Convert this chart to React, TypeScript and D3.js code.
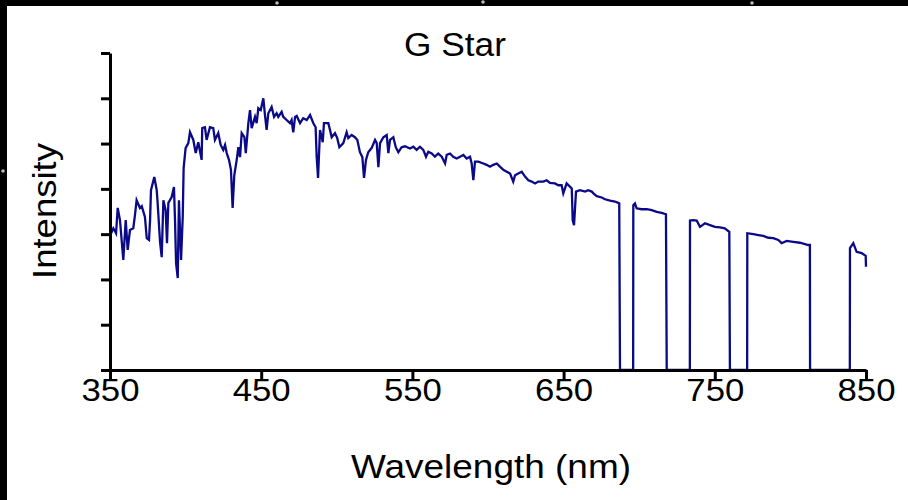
import React, { useEffect, useRef } from "react";
import * as d3 from "d3";

const wavelengths: number[] = [
  350.5, 352.2, 354.0, 355.1, 356.6, 358.8, 360.4, 361.7, 363.2, 365.4, 366.5, 367.6, 369.8, 371.0, 373.1,
  374.3, 375.8, 376.5, 377.1, 379.3, 380.9, 381.5, 383.1, 384.2, 385.3, 386.8, 387.7, 388.6, 390.8, 392.3,
  393.0, 393.7, 394.8, 395.6, 397.0, 398.1, 398.7, 400.0, 401.8, 402.9, 405.1, 406.7, 408.4, 410.6, 411.0,
  412.8, 413.9, 416.1, 418.3, 419.4, 421.6, 423.2, 424.9, 426.1, 427.2, 428.7, 430.0, 431.1, 432.2, 433.8,
  434.9, 436.0, 437.1, 438.9, 439.8, 441.5, 442.6, 443.7, 445.9, 447.0, 448.1, 449.7, 451.4, 452.5, 453.6,
  454.7, 456.9, 458.5, 460.2, 461.3, 463.5, 464.6, 466.8, 469.0, 470.1, 471.2, 472.4, 473.5, 475.7, 477.8,
  480.1, 482.3, 484.5, 486.0, 486.7, 487.6, 488.9, 490.7, 491.5, 494.4, 495.5, 496.6, 498.8, 500.3, 501.7,
  504.3, 506.5, 507.6, 509.8, 512.0, 513.6, 515.3, 516.9, 518.0, 519.3, 520.8, 523.0, 525.3, 526.4, 527.5,
  528.6, 530.8, 533.0, 534.1, 535.2, 537.4, 539.0, 540.7, 542.9, 545.1, 548.4, 550.6, 552.8, 555.0, 557.2,
  559.0, 560.5, 562.8, 564.9, 567.1, 569.4, 571.6, 572.7, 574.9, 577.0, 579.3, 581.5, 583.7, 585.9, 588.1,
  589.2, 590.3, 591.4, 593.6, 596.9, 599.1, 601.3, 603.5, 605.8, 607.9, 610.1, 612.4, 614.6, 616.7, 617.9,
  620.0, 622.3, 624.5, 626.7, 628.9, 631.1, 633.3, 636.6, 638.8, 641.0, 644.3, 646.5, 648.7, 649.8, 652.0,
  654.2, 655.4, 656.0, 656.9, 658.2, 660.8, 664.2, 666.3, 668.6, 669.7, 671.9, 675.2, 677.4, 680.7, 684.0,
  686.8, 687.3, 696.0, 696.1, 697.2, 698.3, 701.6, 705.0, 708.3, 711.6, 714.9, 717.7, 718.2, 733.5, 733.6,
  735.8, 738.0, 740.2, 743.5, 746.8, 750.1, 753.4, 756.6, 759.6, 760.0, 771.4, 771.5, 775.5, 778.8, 782.1,
  785.4, 788.7, 792.0, 794.2, 797.5, 801.9, 806.3, 811.8, 812.9, 813.0, 839.3, 839.4, 841.6, 843.8, 847.1,
  849.8, 850.0,
];

const intensity: number[] = [
  3.0, 3.13, 3.02, 3.58, 3.31, 2.43, 3.31, 2.65, 3.09, 3.13, 3.42, 3.75, 3.58, 3.62, 3.38,
  2.91, 2.87, 3.31, 3.97, 4.26, 3.97, 3.69, 2.83, 2.49, 3.75, 3.53, 2.8, 3.69, 3.82, 4.04,
  3.31, 2.36, 2.03, 3.75, 2.43, 3.38, 4.46, 4.9, 5.01, 5.25, 5.08, 4.79, 5.03, 4.64, 5.34,
  5.36, 5.08, 5.36, 5.34, 5.08, 5.23, 4.97, 4.86, 4.97, 4.79, 4.64, 4.42, 3.58, 4.3, 4.64,
  4.92, 4.7, 5.23, 5.14, 4.79, 5.45, 5.74, 5.34, 5.59, 5.45, 5.78, 5.74, 6.0, 5.63, 5.3,
  5.67, 5.81, 5.59, 5.67, 5.59, 5.7, 5.59, 5.52, 5.45, 5.52, 5.25, 5.59, 5.61, 5.45, 5.56,
  5.52, 5.63, 5.45, 5.36, 4.7, 4.24, 5.3, 5.03, 5.45, 5.45, 5.3, 5.14, 5.23, 5.12, 4.92,
  5.01, 5.25, 5.12, 5.19, 5.14, 5.08, 4.81, 4.7, 4.24, 4.64, 4.81, 4.9, 5.08, 5.01, 4.48,
  5.01, 5.14, 5.19, 4.79, 5.08, 5.14, 4.92, 4.81, 4.92, 4.94, 4.89, 4.93, 4.86, 4.93, 4.86,
  4.71, 4.82, 4.78, 4.71, 4.78, 4.71, 4.56, 4.75, 4.78, 4.71, 4.67, 4.71, 4.75, 4.67, 4.71,
  4.56, 4.19, 4.6, 4.6, 4.56, 4.53, 4.49, 4.53, 4.56, 4.49, 4.42, 4.38, 4.34, 4.16, 4.3,
  4.34, 4.38, 4.27, 4.19, 4.16, 4.12, 4.16, 4.16, 4.19, 4.13, 4.12, 4.08, 4.08, 3.9, 4.12,
  4.05, 4.01, 3.31, 3.2, 3.94, 3.97, 3.94, 3.97, 3.94, 3.9, 3.84, 3.81, 3.77, 3.74, 3.72,
  3.68, 0, 0, 3.64, 3.68, 3.57, 3.55, 3.55, 3.53, 3.49, 3.47, 3.44, 0, 0, 3.3,
  3.31, 3.3, 3.16, 3.24, 3.2, 3.16, 3.15, 3.13, 3.05, 0, 0, 3.02, 3.0, 2.98, 2.96,
  2.92, 2.91, 2.87, 2.8, 2.85, 2.83, 2.81, 2.76, 2.76, 0, 0, 2.69, 2.8, 2.61, 2.58,
  2.52, 2.28,
];

const xTicks: number[] = [350, 450, 550, 650, 750, 850];
const yTicks: number[] = [0, 1, 2, 3, 4, 5, 6, 7];
const titleText = "G Star";
const xLabel = "Wavelength (nm)";
const yLabel = "Intensity";
const stars: [number, number][] = [[277, 3], [483, 2], [752, 3], [3, 171]];

const W = 908;
const H = 500;
const FONT = "'Liberation Sans', Arial, Helvetica, sans-serif";

export default function App() {
  const ref = useRef<SVGSVGElement | null>(null);

  useEffect(() => {
    const svg = d3.select(ref.current);
    svg.selectAll("*").remove();

    const x = d3.scaleLinear().domain([350, 850]).range([110, 866]);
    const y = d3.scaleLinear().domain([0, 7]).range([370, 53]);

    svg.append("rect").attr("width", W).attr("height", H).attr("fill", "#fff");
    svg.append("rect").attr("width", W).attr("height", 6).attr("fill", "#000");
    svg.append("rect").attr("width", 7).attr("height", H).attr("fill", "#000");
    svg
      .selectAll("circle.star")
      .data(stars)
      .enter()
      .append("circle")
      .attr("cx", (d) => d[0])
      .attr("cy", (d) => d[1])
      .attr("r", 1.8)
      .attr("fill", "#bbb");

    const data = wavelengths.map((w, i) => [w, intensity[i]] as [number, number]);
    const line = d3
      .line<[number, number]>()
      .x((d) => x(d[0]))
      .y((d) => y(d[1]));

    svg
      .append("path")
      .datum(data)
      .attr("d", line)
      .attr("fill", "none")
      .attr("stroke", "#0a0a88")
      .attr("stroke-width", 2.3)
      .attr("stroke-linejoin", "miter");

    const xAxis = d3
      .axisBottom(x)
      .tickValues(xTicks)
      .tickSize(9)
      .tickSizeOuter(0)
      .tickFormat((d) => String(d));
    const gx = svg.append("g").attr("transform", "translate(0,370)").call(xAxis);
    gx.select(".domain").attr("stroke", "#000").attr("stroke-width", 3);
    gx.selectAll(".tick line").attr("stroke", "#000").attr("stroke-width", 3);
    gx.selectAll(".tick text")
      .attr("font-family", FONT)
      .attr("font-size", 32)
      .attr("fill", "#000")
      .attr("y", 8)
      .attr("dy", "0.71em")
      .attr("textLength", 58)
      .attr("lengthAdjust", "spacingAndGlyphs");

    const yAxis = d3
      .axisLeft(y)
      .tickValues(yTicks)
      .tickSize(9)
      .tickSizeOuter(0)
      .tickFormat(() => "");
    const gy = svg.append("g").attr("transform", "translate(110,0)").call(yAxis);
    gy.select(".domain").attr("stroke", "#000").attr("stroke-width", 3);
    gy.selectAll(".tick line").attr("stroke", "#000").attr("stroke-width", 3);

    svg
      .append("text")
      .attr("x", 455)
      .attr("y", 56)
      .attr("text-anchor", "middle")
      .attr("font-family", FONT)
      .attr("font-size", 33)
      .attr("fill", "#000")
      .attr("textLength", 102)
      .attr("lengthAdjust", "spacingAndGlyphs")
      .text(titleText);

    svg
      .append("text")
      .attr("x", 491)
      .attr("y", 478)
      .attr("text-anchor", "middle")
      .attr("font-family", FONT)
      .attr("font-size", 33)
      .attr("fill", "#000")
      .attr("textLength", 280)
      .attr("lengthAdjust", "spacingAndGlyphs")
      .text(xLabel);

    svg
      .append("text")
      .attr("transform", "translate(56,211) rotate(-90)")
      .attr("text-anchor", "middle")
      .attr("font-family", FONT)
      .attr("font-size", 33)
      .attr("fill", "#000")
      .attr("textLength", 136)
      .attr("lengthAdjust", "spacingAndGlyphs")
      .text(yLabel);
  }, []);

  return (
    <svg
      ref={ref}
      width={W}
      height={H}
      style={{ position: "absolute", left: 0, top: 0, display: "block" }}
    />
  );
}
